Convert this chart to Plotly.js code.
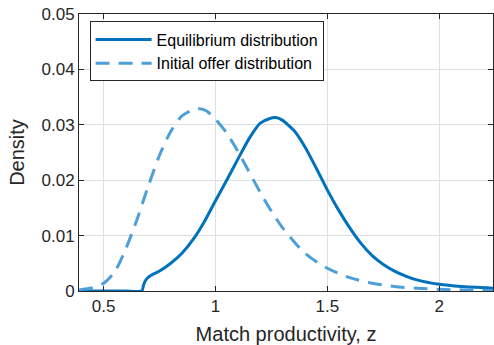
<!DOCTYPE html>
<html>
<head>
<meta charset="utf-8">
<script src="https://cdn.plot.ly/plotly-3.0.1.min.js"></script>
<style>
html,body{margin:0;padding:0;background:#fff;}
#chart{width:494px;height:345px;}
</style>
</head>
<body>
<div id="chart"></div>
<script>
// Equilibrium distribution (solid)
const eqZ = [0.39, 0.5, 0.6, 0.671, 0.678, 0.686, 0.70, 0.72, 0.75, 0.80, 0.85, 0.90, 0.95, 1.00, 1.05, 1.10, 1.15, 1.20, 1.24, 1.27, 1.30, 1.35, 1.40, 1.45, 1.50, 1.55, 1.60, 1.65, 1.70, 1.75, 1.80, 1.85, 1.90, 2.00, 2.10, 2.24];
const eqD = [0, 0, 0, 0, 0.0010, 0.0018, 0.0025, 0.0030, 0.0036, 0.0050, 0.0068, 0.0093, 0.0125, 0.0163, 0.0200, 0.0238, 0.0275, 0.0303, 0.0311, 0.0313, 0.0308, 0.0290, 0.0260, 0.0222, 0.0182, 0.0146, 0.0114, 0.0086, 0.0064, 0.0048, 0.0036, 0.0027, 0.0020, 0.0012, 0.0008, 0.0005];

// Initial offer distribution (dashed)
const offZ = [0.39, 0.45, 0.50, 0.55, 0.60, 0.65, 0.70, 0.75, 0.80, 0.85, 0.90, 0.93, 0.96, 1.00, 1.05, 1.10, 1.15, 1.20, 1.25, 1.30, 1.40, 1.50, 1.60, 1.70, 1.80, 1.90, 2.00, 2.10, 2.24];
const offD = [0.0002, 0.0006, 0.0014, 0.0035, 0.0077, 0.0130, 0.0190, 0.0245, 0.0288, 0.0316, 0.0327, 0.0329, 0.0325, 0.0310, 0.0285, 0.0252, 0.0215, 0.0178, 0.0144, 0.0114, 0.0068, 0.0041, 0.0024, 0.0014, 0.0008, 0.0005, 0.0003, 0.0002, 0.0001];

const seriesNames = ["Equilibrium distribution", "Initial offer distribution"];
const xTicks = [0.5, 1, 1.5, 2];
const xTickText = ["0.5", "1", "1.5", "2"];
const yTicks = [0, 0.01, 0.02, 0.03, 0.04, 0.05];
const yTickText = ["0", "0.01", "0.02", "0.03", "0.04", "0.05"];

const FONT = "Liberation Sans, Arial, Helvetica, sans-serif";
const AX = "rgb(38,38,38)";

const traces = [
  {x: eqZ, y: eqD, name: seriesNames[0], type: "scatter", mode: "lines",
   line: {color: "#0072BD", width: 3, shape: "spline", smoothing: 0.5}},
  {x: offZ, y: offD, name: seriesNames[1], type: "scatter", mode: "lines",
   line: {color: "#4d9fd9", width: 3, dash: "14px,9px", shape: "spline", smoothing: 0.8}}
];

const axisCommon = {
  showline: true, linecolor: AX, linewidth: 1, mirror: "ticks",
  ticks: "inside", ticklen: 5, tickcolor: AX, tickwidth: 1,
  showgrid: true, gridcolor: "rgb(223,223,223)", gridwidth: 1,
  zeroline: false, tickfont: {family: FONT, size: 17, color: AX},
  automargin: false
};

const layout = {
  width: 494, height: 345,
  margin: {l: 79, r: 1, t: 14, b: 54},
  paper_bgcolor: "#fff", plot_bgcolor: "#fff",
  showlegend: true,
  legend: {x: 0.0256, y: 0.973, xanchor: "left", yanchor: "top",
    bgcolor: "#fff", bordercolor: AX, borderwidth: 1,
    font: {family: FONT, size: 16, color: "#000"}, itemwidth: 56, tracegroupgap: 0},
  xaxis: Object.assign({}, axisCommon, {
    range: [0.39, 2.24], tickvals: xTicks, ticktext: xTickText,
    title: {text: "Match productivity, z", font: {family: FONT, size: 20, color: AX}, standoff: 12}
  }),
  yaxis: Object.assign({}, axisCommon, {
    range: [0, 0.05], tickvals: yTicks, ticktext: yTickText,
    title: {text: "Density", font: {family: FONT, size: 20, color: AX}, standoff: 11}
  })
};

Plotly.newPlot("chart", traces, layout, {staticPlot: true, displayModeBar: false});
</script>
</body>
</html>
